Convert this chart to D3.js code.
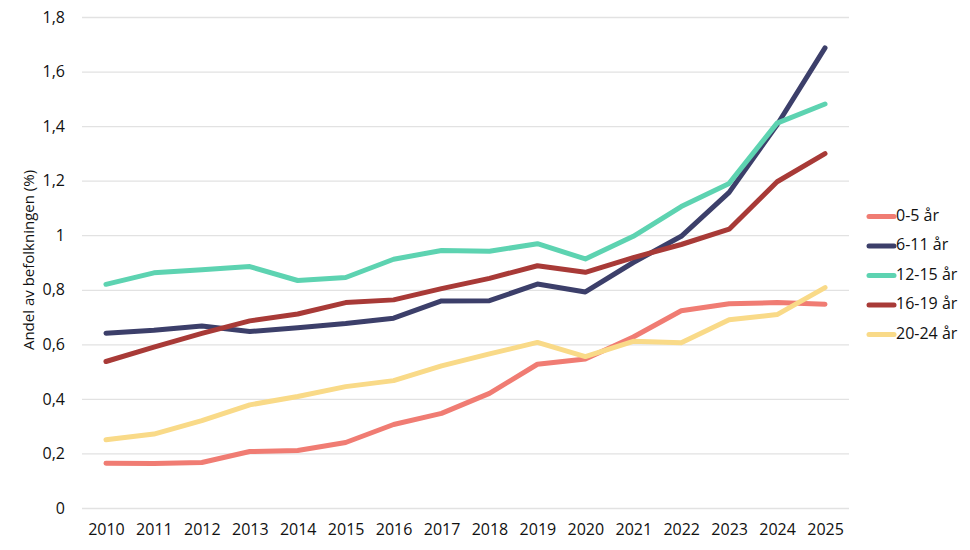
<!DOCTYPE html>
<html><head><meta charset="utf-8">
<script src="https://cdn.jsdelivr.net/npm/d3@7"></script>
<style>body{margin:0;background:#fff}svg{display:block}text{font-family:"Open Sans",sans-serif;fill:#111}</style>
</head><body><svg id="c" width="970" height="550"></svg>
<script>
const years = [2010,2011,2012,2013,2014,2015,2016,2017,2018,2019,2020,2021,2022,2023,2024,2025];
const seriesNames = ["0-5 år","6-11 år","12-15 år","16-19 år","20-24 år"];
const age0_5   = [0.164,0.163,0.167,0.207,0.211,0.240,0.306,0.347,0.420,0.527,0.546,0.627,0.723,0.749,0.753,0.747];
const age6_11  = [0.641,0.652,0.667,0.647,0.661,0.676,0.696,0.759,0.760,0.821,0.792,0.900,0.996,1.157,1.405,1.687];
const age12_15 = [0.820,0.862,0.873,0.885,0.834,0.845,0.912,0.944,0.941,0.969,0.913,0.996,1.105,1.190,1.411,1.481];
const age16_19 = [0.537,0.590,0.640,0.686,0.711,0.753,0.763,0.804,0.842,0.888,0.864,0.918,0.966,1.022,1.196,1.299];
const age20_24 = [0.250,0.271,0.320,0.378,0.409,0.445,0.467,0.521,0.565,0.607,0.555,0.611,0.606,0.690,0.709,0.808];
const yTicks = [0,0.2,0.4,0.6,0.8,1,1.2,1.4,1.6,1.8];
const colors = ["#F07C73","#3C3F6A","#5DD3B1","#A83A37","#F9DA88"];
const yTitle = "Andel av befolkningen (%)";

const allSeries = [age0_5,age6_11,age12_15,age16_19,age20_24];
const svg = d3.select("#c");
const pL=82,pR=849,pT=17,pB=508;
const x = d3.scalePoint().domain(years).range([pL,pR]).padding(0.5);
const y = d3.scaleLinear().domain([0,1.8]).range([pB,pT]);
const fmt = v => String(v).replace(".",",");

const ga = svg.append("g").attr("transform",`translate(${pL},0)`)
  .call(d3.axisLeft(y).tickValues(yTicks).tickSize(-(pR-pL)).tickFormat(fmt).tickPadding(17));
ga.select(".domain").remove();
ga.selectAll(".tick line").attr("stroke","#e2e2e2").attr("stroke-width",1.3);
ga.selectAll(".tick text").style("font-size","16px").attr("fill","#111");

const xa = svg.append("g").attr("transform",`translate(0,${pB})`)
  .call(d3.axisBottom(x).tickSize(0).tickPadding(16));
xa.select(".domain").remove();
xa.selectAll(".tick text").style("font-size","16px").attr("fill","#111");

svg.append("text").attr("transform","translate(30,260) rotate(-90)")
  .attr("text-anchor","middle").attr("dominant-baseline","middle")
  .style("font-size","15px").text(yTitle);

const line = d3.line().x((d,i)=>x(years[i])).y(d=>y(d));
allSeries.forEach((s,k)=>{
  svg.append("path").datum(s).attr("d",line).attr("fill","none")
    .attr("stroke",colors[k]).attr("stroke-width",5)
    .attr("stroke-linecap","round").attr("stroke-linejoin","round");
});

const lg = svg.append("g");
seriesNames.forEach((n,k)=>{
  const yy = 216.5 + k*29.5;
  lg.append("line").attr("x1",869).attr("x2",894).attr("y1",yy).attr("y2",yy)
    .attr("stroke",colors[k]).attr("stroke-width",5).attr("stroke-linecap","round");
  lg.append("text").attr("x",896).attr("y",yy).attr("dominant-baseline","middle")
    .style("font-size","16px").text(n);
});
</script></body></html>
